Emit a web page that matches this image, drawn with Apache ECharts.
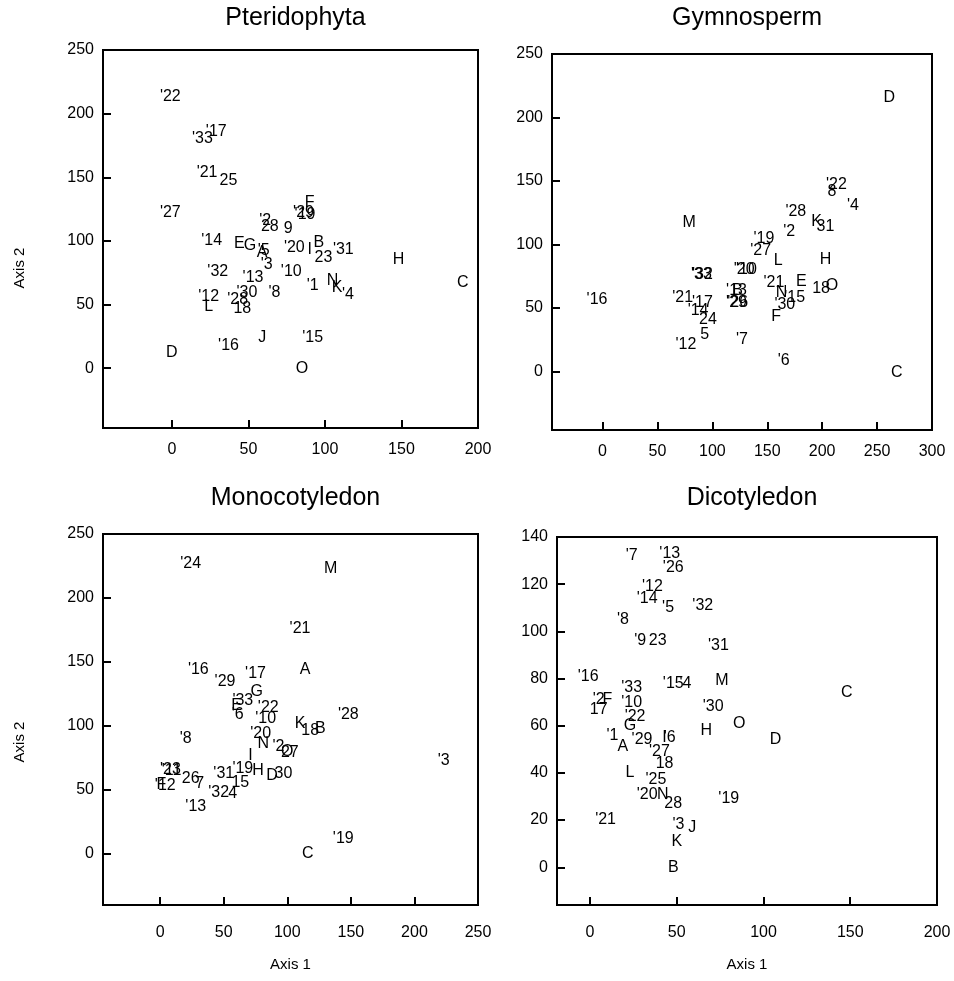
<!DOCTYPE html>
<html>
<head>
<meta charset="utf-8">
<script src="https://cdn.jsdelivr.net/npm/echarts@6/dist/echarts.min.js"></script>
<style>
  html, body { margin: 0; padding: 0; background: #fff; }
  #chart { width: 954px; height: 981px; }
</style>
</head>
<body>
<div id="chart"></div>
<script>
// each point: [axis 1, axis 2, label]
const pteridophyta = [
  [-1, 213, "'22"], [20, 180, "'33"], [29, 186, "'17"], [23, 154, "'21"], [37, 147, '25'],
  [-1, 122, "'27"], [90, 130, 'F'], [86, 122, "'29"], [87, 121, "'19"], [61, 116, "'2"],
  [64, 111, '28'], [76, 110, '9'], [26, 100, "'14"], [44, 98, 'E'], [51, 96, 'G'],
  [59, 91, 'A'], [60, 92, "'5"], [62, 81, "'3"], [80, 95, "'20"], [90, 93, 'I'],
  [96, 99, 'B'], [99, 87, '23'], [112, 93, "'31"], [30, 76, "'32"], [53, 71, "'13"],
  [78, 76, "'10"], [92, 65, "'1"], [105, 69, 'N'], [108, 63, 'K'], [115, 58, "'4"],
  [24, 56, "'12"], [24, 48, 'L'], [49, 59, "'30"], [43, 54, "'28"], [46, 47, '18'],
  [67, 59, "'8"], [59, 24, 'J'], [92, 24, "'15"], [37, 18, "'16"], [0, 12, 'D'],
  [85, 0, 'O'], [148, 85, 'H'], [190, 67, 'C']
];
const gymnosperm = [
  [261, 216, 'D'], [213, 147, "'22"], [209, 142, '8'], [228, 131, "'4"], [176, 126, "'28"],
  [195, 118, 'K'], [203, 114, '31'], [170, 110, "'2"], [147, 105, "'19"], [144, 95, "'27"],
  [160, 87, 'L'], [203, 88, 'H'], [79, 117, 'M'], [129, 80, "'20"], [131, 80, "'10"],
  [90, 76, "'33"], [91, 76, "'32"], [122, 64, "'13"], [123, 64, 'B'], [122, 54, "'29"],
  [123, 54, "'26"], [156, 70, "'21"], [181, 71, 'E'], [163, 62, 'N'], [175, 58, "'15"],
  [166, 53, "'30"], [158, 43, 'F'], [199, 65, '18'], [209, 68, 'O'], [127, 25, "'7"],
  [165, 9, "'6"], [268, -1, 'C'], [96, 41, '24'], [93, 29, '5'], [76, 21, "'12"],
  [73, 58, "'21"], [91, 54, "'17"], [87, 48, "'14"], [-5, 57, "'16"]
];
const monocotyledon = [
  [24, 227, "'24"], [134, 223, 'M'], [110, 176, "'21"], [30, 144, "'16"], [51, 135, "'29"],
  [75, 141, "'17"], [76, 127, 'G'], [65, 120, "'33"], [60, 116, 'E'], [61, 109, "'6"],
  [85, 114, "'22"], [83, 106, "'10"], [79, 94, "'20"], [81, 86, 'N'], [20, 90, "'8"],
  [71, 77, 'I'], [65, 67, "'19"], [77, 65, 'H'], [88, 61, 'D'], [97, 63, '30'],
  [50, 63, "'31"], [63, 56, '15'], [46, 48, "'32"], [57, 47, '4'], [28, 37, "'13"],
  [8, 66, "'23"], [9, 65, "'11"], [24, 59, '26'], [31, 55, '7'], [1, 54, 'F'],
  [4, 53, "'12"], [114, 144, 'A'], [148, 109, "'28"], [110, 102, 'K'], [118, 96, '18'],
  [126, 98, 'B'], [223, 73, "'3"], [144, 12, "'19"], [116, 0, 'C'], [93, 84, "'2"],
  [102, 79, '27'], [100, 80, 'O']
];
const dicotyledon = [
  [24, 132, "'7"], [46, 133, "'13"], [48, 127, "'26"], [36, 119, "'12"], [33, 114, "'14"],
  [45, 110, "'5"], [65, 111, "'32"], [19, 105, "'8"], [29, 96, "'9"], [39, 96, '23'],
  [74, 94, "'31"], [-1, 81, "'16"], [24, 76, "'33"], [48, 78, "'15"], [55, 78, "'4"],
  [76, 79, 'M'], [5, 71, "'2"], [10, 71, 'F'], [5, 67, '17'], [24, 70, "'10"],
  [26, 64, "'22"], [23, 60, 'G'], [71, 68, "'30"], [86, 61, 'O'], [67, 58, 'H'],
  [107, 54, 'D'], [13, 56, "'1"], [19, 51, 'A'], [30, 54, "'29"], [46, 55, "'6"],
  [43, 55, 'I'], [40, 49, "'27"], [43, 44, '18'], [23, 40, 'L'], [38, 37, "'25"],
  [33, 31, "'20"], [42, 31, 'N'], [48, 27, '28'], [80, 29, "'19"], [9, 20, "'21"],
  [51, 18, "'3"], [59, 17, 'J'], [50, 11, 'K'], [48, 0, 'B'], [148, 74, 'C']
];

const titles = ['Pteridophyta', 'Gymnosperm', 'Monocotyledon', 'Dicotyledon'];
const panelData = [pteridophyta, gymnosperm, monocotyledon, dicotyledon];
const xRanges = [[-45, 200], [-46, 300], [-45, 250], [-19, 200]];
const yRanges = [[-47, 250], [-46, 250], [-40, 250], [-16, 140]];
const xSplits = [5, 7, 6, 4];
const ySplits = [6, 6, 6, 8];

const font = 'Liberation Sans, Arial, sans-serif';
const grids = [
  { left: 103, top: 50, width: 375, height: 378 },
  { left: 552, top: 54, width: 380, height: 376 },
  { left: 103, top: 534, width: 375, height: 371 },
  { left: 557, top: 537, width: 380, height: 368 }
];

const chart = echarts.init(document.getElementById('chart'), null, { renderer: 'canvas' });

const axisBase = {
  axisLine: { show: false, onZero: false },
  axisTick: { show: true, inside: true, length: 8, lineStyle: { color: '#000', width: 2 } },
  splitLine: { show: false },
  axisLabel: { color: '#000', fontSize: 16, fontFamily: font, showMinLabel: false, showMaxLabel: true }
};

const option = {
  animation: false,
  backgroundColor: '#fff',
  title: titles.map((t, i) => ({
    text: t,
    left: grids[i].left + grids[i].width / 2,
    textAlign: 'center',
    top: i < 2 ? 1 : 481,
    textStyle: { fontSize: 25, fontWeight: 'normal', color: '#000', fontFamily: font }
  })),
  graphic: [
    { type: 'text', x: 20, y: 268, rotation: Math.PI / 2,
      style: { text: 'Axis 2', fill: '#000', font: '15px ' + font, align: 'center', verticalAlign: 'middle' } },
    { type: 'text', x: 20, y: 742, rotation: Math.PI / 2,
      style: { text: 'Axis 2', fill: '#000', font: '15px ' + font, align: 'center', verticalAlign: 'middle' } }
  ],
  grid: grids.map(g => Object.assign({ show: true, borderColor: '#000', borderWidth: 2, containLabel: false }, g)),
  xAxis: xRanges.map((r, i) => Object.assign({}, axisBase, {
    gridIndex: i, type: 'value', position: 'bottom', min: r[0], max: r[1], splitNumber: xSplits[i],
    axisLabel: Object.assign({}, axisBase.axisLabel, { margin: i < 2 ? 14 : 20 }),
    name: i >= 2 ? 'Axis 1' : '', nameLocation: 'middle', nameGap: 52,
    nameTextStyle: { fontSize: 15, color: '#000', fontFamily: font }
  })),
  yAxis: yRanges.map((r, i) => Object.assign({}, axisBase, {
    gridIndex: i, type: 'value', position: 'left', min: r[0], max: r[1], splitNumber: ySplits[i],
    axisLabel: Object.assign({}, axisBase.axisLabel, { margin: 9 })
  })),
  series: panelData.map((d, i) => ({
    type: 'scatter',
    xAxisIndex: i,
    yAxisIndex: i,
    symbol: 'circle',
    symbolSize: 1,
    itemStyle: { color: 'rgba(0,0,0,0)', opacity: 1 },
    data: d,
    label: {
      show: true,
      position: 'inside',
      formatter: p => p.value[2],
      color: '#000',
      opacity: 1,
      fontSize: 16,
      fontFamily: font
    }
  }))
};

chart.setOption(option);
</script>
</body>
</html>
